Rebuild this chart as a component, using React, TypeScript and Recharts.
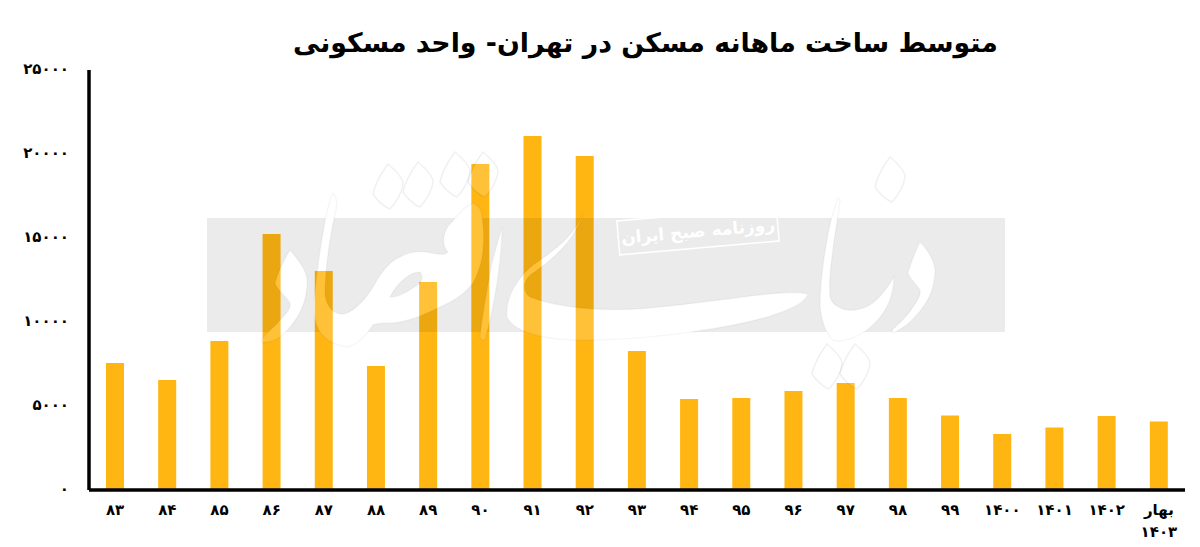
import React from "react";
import { BarChart, Bar, XAxis, YAxis } from "recharts";

const years = ["۸۳", "۸۴", "۸۵", "۸۶", "۸۷", "۸۸", "۸۹", "۹۰", "۹۱", "۹۲", "۹۳", "۹۴", "۹۵", "۹۶", "۹۷", "۹۸", "۹۹", "۱۴۰۰", "۱۴۰۱", "۱۴۰۲", "بهار ۱۴۰۳"];
const units = [7560, 6550, 8870, 15240, 13035, 7380, 12380, 19405, 21070, 19880, 8270, 5420, 5475, 5890, 6370, 5475, 4435, 3330, 3720, 4405, 4080];
const yTicks = [0, 5000, 10000, 15000, 20000, 25000];

const chartData = years.map((year, i) => ({ year, units: units[i] }));

const FONT = "'DejaVu Sans', sans-serif";

const toPersian = (n: number) => String(n).replace(/\d/g, (d) => "۰۱۲۳۴۵۶۷۸۹"[Number(d)]);

const XTick = ({ x, y, payload }: any) => {
  const lines = payload.value.split(" ");
  return (
    <g>
      {lines.map((line: string, i: number) => (
        <text key={i} x={x} y={y + 17 + i * 22} textAnchor="middle" fontFamily={FONT} fontWeight={700} fontSize={15} fill="#000">
          {line}
        </text>
      ))}
    </g>
  );
};

// calligraphic logo behind the band, traced by eye
const logoShapes = [
  "M583 213 C575 235 555 250 533 265 C515 280 505 300 507 317 C515 335 555 342 600 340 C660 338 730 328 767 317 C790 310 805 303 808 294 C790 288 733 300 650 308 C600 312 560 308 530 297 C520 290 525 278 533 273 C555 258 575 240 583 213 Z",
  "M290 250 C300 262 308 272 307 283 C307 300 300 320 280 337 C272 342 265 343 261 342 C262 335 272 330 280 320 C288 312 291 308 290 303 C285 295 277 290 275 283 C278 272 285 258 290 250 Z",
  "M333 193 C336 196 338 200 336 210 C330 235 325 270 325 295 C328 312 338 316 347 313 C358 308 366 298 373 287 C382 270 392 260 400 257 C412 250 420 252 427 252 C436 254 444 256 448 252 C440 245 444 228 452 222 C458 214 465 206 473 203 C480 206 482 212 482 217 C484 228 484 240 483 250 C482 262 478 274 473 283 C464 295 452 302 440 307 C426 314 412 320 400 322 C390 324 380 322 373 325 C366 336 356 346 347 347 C336 345 325 340 320 332 C314 322 313 312 314 300 C316 280 319 255 323 233 C326 215 329 200 333 193 Z M390 297 C396 298 408 292 420 283 C423 278 422 274 420 272 C410 272 398 282 390 297 Z",
  "M502 227 C497 245 492 260 490 273 C486 295 482 318 480 337 C481 340 484 341 485 340 C490 322 494 302 497 283 C500 262 502 245 502 227 Z",
  "M838 198 C833 212 829 226 827 240 C823 262 820 285 820 307 C822 322 826 334 833 340 C842 343 856 338 867 330 C878 322 886 310 890 300 C893 290 894 283 894 277 C888 287 881 296 873 303 C864 309 856 311 847 310 C838 308 832 304 830 297 C829 284 830 270 832 257 C834 238 838 218 840 200 Z",
  "M920 242 C928 250 934 260 935 270 C935 285 930 298 923 307 C914 320 903 329 893 333 L892 330 C900 323 908 315 913 307 C918 300 921 295 920 290 C916 284 910 279 908 273 C911 262 916 250 920 242 Z",
];
const logoDots = [
  [388, 187],
  [418, 185],
  [455, 175],
  [483, 175],
  [890, 180],
  [827, 367],
  [855, 367],
];
const DOT = "M0 -23 C6 -18 13 -11 15 -5 C15 4 8 16 2 22 C-4 20 -12 12 -15 7 C-13 -3 -6 -15 0 -23 Z";

const Watermark = () => (
  <svg width={1200} height={547} style={{ position: "absolute", left: 0, top: 0, pointerEvents: "none" }}>
    <defs>
      <mask id="bandMask" maskUnits="userSpaceOnUse" x={0} y={0} width={1200} height={547}>
        <rect x={0} y={0} width={1200} height={547} fill="#fff" />
        {logoShapes.map((d, i) => (
          <path key={i} d={d} fill="#000" fillRule="evenodd" />
        ))}
      </mask>
    </defs>
    <rect x={207} y={218} width={798} height={114} fill="#000" fillOpacity={0.08} mask="url(#bandMask)" />
    {logoShapes.map((d, i) => (
      <path key={i} d={d} fill="#fff" fillOpacity={0.16} fillRule="evenodd" stroke="#000" strokeOpacity={0.035} strokeWidth={1.5} />
    ))}
    {logoDots.map(([cx, cy], i) => (
      <path key={i} d={DOT} transform={`translate(${cx} ${cy})`} fill="#fff" fillOpacity={0.16} stroke="#000" strokeOpacity={0.06} strokeWidth={1.5} />
    ))}
    <g transform="rotate(-5 698 231)">
      <rect x={618} y={214} width={160} height={34} fill="none" stroke="#fff" strokeWidth={1.5} />
      <text x={698} y={237} textAnchor="middle" direction="rtl" fontFamily={FONT} fontSize={17} fontWeight={700} fill="#fff">
        روزنامه صبح ایران
      </text>
    </g>
  </svg>
);

export default function App() {
  return (
    <div style={{ position: "absolute", left: 0, top: 0, width: 1200, height: 547, background: "#fff" }}>
      <div dir="rtl" style={{ position: "absolute", left: 0, top: 27, width: 1291, textAlign: "center", fontFamily: FONT, fontWeight: 700, fontSize: 26.8, color: "#000", whiteSpace: "nowrap" }}>
        متوسط ساخت ماهانه مسکن در تهران- واحد مسکونی
      </div>
      <BarChart width={1200} height={547} data={chartData} margin={{ top: 70, right: 15, bottom: 0, left: 0 }} barSize={18}>
        <XAxis dataKey="year" interval={0} tick={<XTick />} tickLine={false} axisLine={{ stroke: "#000", strokeWidth: 3.5 }} height={57} />
        <YAxis width={89} domain={[0, 25000]} ticks={yTicks} tickFormatter={toPersian} tickLine={false} tickSize={0} tickMargin={20} axisLine={{ stroke: "#000", strokeWidth: 3.5 }} tick={{ fill: "#000", fontSize: 15, fontWeight: 700, fontFamily: FONT, dy: -1 }} />
        <Bar dataKey="units" fill="#ffb612" isAnimationActive={false} />
      </BarChart>
      <Watermark />
    </div>
  );
}
